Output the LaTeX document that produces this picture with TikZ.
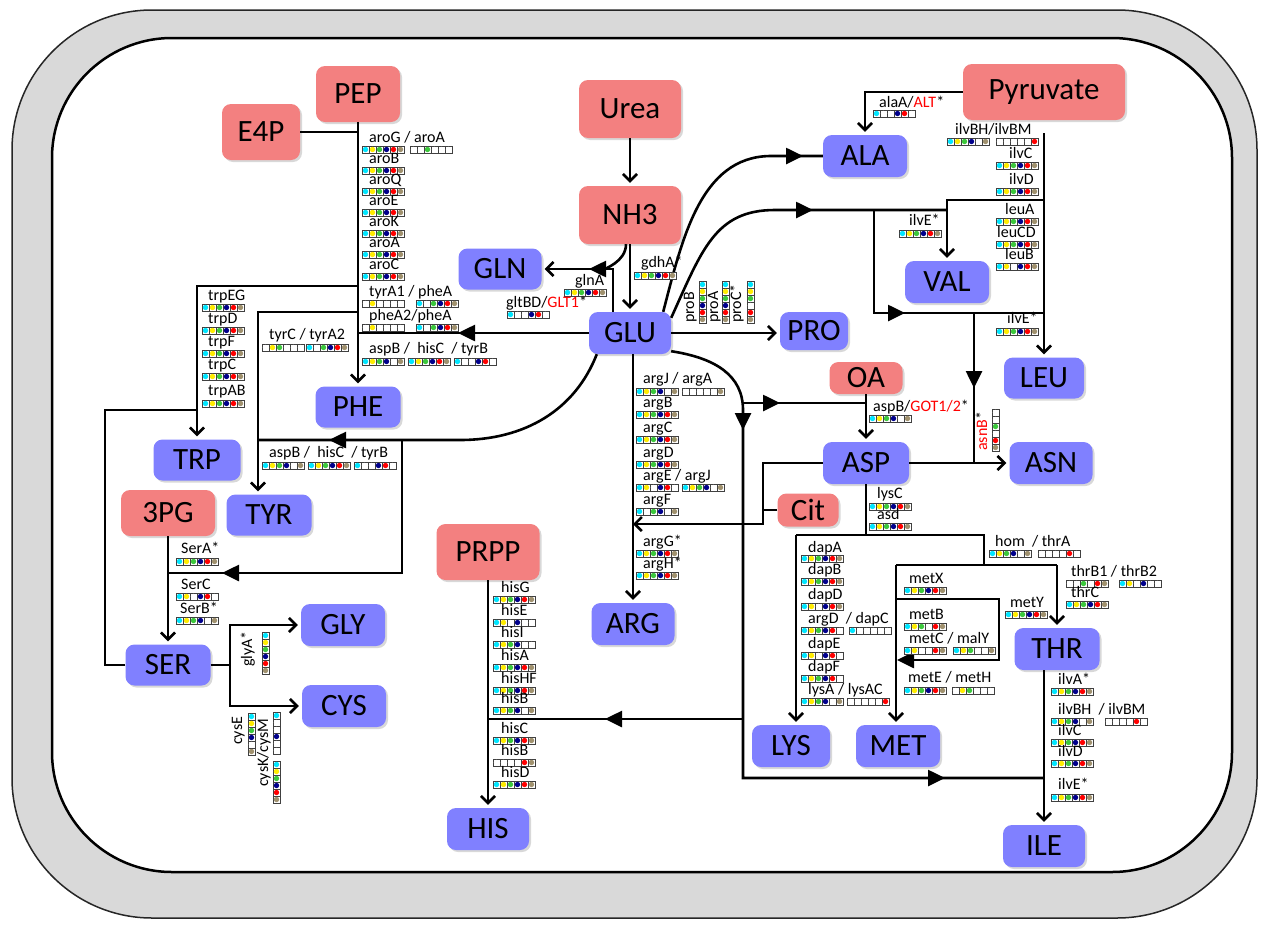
\documentclass[tikz,border=0pt]{standalone}
\usepackage{fontspec}
\setmainfont{Carlito}
\usetikzlibrary{arrows.meta,shadows,calc}
\definecolor{nred}{RGB}{243,128,128}
\definecolor{nblue}{RGB}{128,128,255}
\definecolor{c}{RGB}{0,230,255}
\definecolor{y}{RGB}{255,236,0}
\definecolor{g}{RGB}{60,200,60}
\definecolor{n}{RGB}{0,0,140}
\definecolor{r}{RGB}{255,0,0}
\definecolor{t}{RGB}{160,145,110}
\definecolor{o}{RGB}{255,255,255}
\definecolor{framegray}{RGB}{217,217,217}
\newcount\gcnt
\newcommand\gs[2]{\begin{scope}[shift={(#1)}]
  \foreach \cc [count=\ii from 0] in {#2}{
    \draw[cellb] (\ii*7,0) rectangle ++(7,7);
    \fill[fill=\cc] (\ii*7+3.5,3.5) circle[radius=2.7pt];}
  \end{scope}}
\newcommand\gsv[2]{\begin{scope}[shift={(#1)}]
  \foreach \cc [count=\ii from 0] in {#2}{
    \draw[cellb] (0,\ii*7) rectangle ++(7,7);
    \fill[fill=\cc] (3.5,\ii*7+3.5) circle[radius=2.7pt];}
  \end{scope}}
\newcommand\gl[2]{\global\advance\gcnt by 1 \node[gtxt] (t\the\gcnt) at (#1) {#2};}
\newcommand\glr[2]{\global\advance\gcnt by 1 \node[gtxt,rotate=90] (t\the\gcnt) at (#1) {#2};}
\begin{document}
\begin{tikzpicture}[x=1pt,y=-1pt,
  base/.style={rounded corners=9pt, font=\fontsize{31}{34}\selectfont, inner sep=0pt,
    drop shadow={opacity=0.3, shadow xshift=2pt, shadow yshift=-2pt}},
  rn/.style={base, fill=nred},
  bn/.style={base, fill=nblue},
  ln/.style={line width=2.6pt},
  oa/.style={ln, -{Straight Barb[length=7pt,width=14pt]}, shorten >=3pt},
  tri/.style={ln, -{Triangle[length=17pt,width=16pt]}},
  cellb/.style={draw=black!75, line width=0.6pt, fill=white},
  gtxt/.style={anchor=base west, inner sep=0pt, font=\fontsize{16}{18}\selectfont}]
\useasboundingbox (0,0) rectangle (1264,924);
\draw[line width=1.5pt, draw=black!85, fill=framegray, rounded corners=140pt] (12,10) rectangle (1257,918);
\draw[line width=2.5pt, fill=white, rounded corners=120pt] (52,38) rectangle (1232,872);

% ---------- nodes ----------
\node[rn, minimum width=84pt, minimum height=56pt] (PEP) at (358,94) {PEP};
\node[rn, minimum width=78pt, minimum height=56pt] (E4P) at (261,132) {E4P};
\node[rn, minimum width=102pt, minimum height=58pt] (Urea) at (630,109) {Urea};
\node[rn, minimum width=102pt, minimum height=58pt] (NH3) at (630,215) {NH3};
\node[rn, minimum width=162pt, minimum height=56pt] (Pyr) at (1044,92) {Pyruvate};
\node[rn, minimum width=73pt, minimum height=32pt] (OA) at (866,378) {OA};
\node[rn, minimum width=61pt, minimum height=33pt] (Cit) at (808,510) {Cit};
\node[rn, minimum width=94pt, minimum height=46pt] (PG) at (168,513) {3PG};
\node[rn, minimum width=103pt, minimum height=56pt] (PRPP) at (488,552) {PRPP};

\node[bn, minimum width=83pt, minimum height=41pt] (GLN) at (500,269) {GLN};
\node[bn, minimum width=82pt, minimum height=42pt] (GLU) at (630,333) {GLU};
\node[bn, minimum width=68pt, minimum height=38pt] (PRO) at (814,331) {PRO};
\node[bn, minimum width=84pt, minimum height=42pt] (ALA) at (865,156) {ALA};
\node[bn, minimum width=84pt, minimum height=42pt] (VAL) at (947,282) {VAL};
\node[bn, minimum width=80pt, minimum height=41pt] (LEU) at (1044,378) {LEU};
\node[bn, minimum width=83pt, minimum height=42pt] (ASN) at (1051,463) {ASN};
\node[bn, minimum width=86pt, minimum height=42pt] (ASP) at (866,463) {ASP};
\node[bn, minimum width=85pt, minimum height=41pt] (PHE) at (358,407) {PHE};
\node[bn, minimum width=87pt, minimum height=41pt] (TRP) at (197,460) {TRP};
\node[bn, minimum width=85pt, minimum height=41pt] (TYR) at (269,515) {TYR};
\node[bn, minimum width=85pt, minimum height=41pt] (SER) at (168,665) {SER};
\node[bn, minimum width=84pt, minimum height=42pt] (GLY) at (343,625) {GLY};
\node[bn, minimum width=84pt, minimum height=42pt] (CYS) at (344,706) {CYS};
\node[bn, minimum width=83pt, minimum height=42pt] (ARG) at (633,624) {ARG};
\node[bn, minimum width=82pt, minimum height=42pt] (HIS) at (488,829) {HIS};
\node[bn, minimum width=78pt, minimum height=42pt] (LYS) at (791,746) {LYS};
\node[bn, minimum width=84pt, minimum height=42pt] (MET) at (898,746) {MET};
\node[bn, minimum width=85pt, minimum height=42pt] (THR) at (1057,649) {THR};
\node[bn, minimum width=82pt, minimum height=42pt] (ILE) at (1044,846) {ILE};

% ---------- connectors ----------
% aromatic
\draw[oa] (PEP) -- (PHE);
\draw[ln] (E4P.east) -- (E4P.east -| PEP.south);
\draw[oa] (358,286) -| (TRP.north);
\draw[oa] (358,312) -| ([xshift=-11pt]TYR.north);
\draw[ln] (GLU.west) -- (GLU.west -| PHE.north);
\draw[tri] (478,333) -- (458,333);
\draw[ln] ([xshift=8pt]GLU.south west) .. controls (575,410) and (525,440) .. (460,440) -- (258,440);
\draw[tri] (349,440) -- (329,440);
\draw[ln] (402,440) |- (168,573);
\draw[tri] (242,573) -- (222,573);
% serine
\draw[oa] (PG) -- (SER);
\draw[ln] (SER.west) -- (105,665) -- (105,410) -- (197,410);
\draw[ln] (SER.east) -- (230,665);
\draw[oa] (230,665) |- (GLY.west);
\draw[oa] (230,665) |- (CYS.west);
% nitrogen
\draw[oa] (Urea) -- (NH3);
\draw[oa] (NH3) -- (GLU);
\draw[oa] ([xshift=-17pt]GLU.north) |- (GLN.east);
\draw[ln, -{Triangle[length=17pt,width=16pt]}] ([xshift=-4pt]NH3.south) .. controls +(0,18) and +(14,0) .. (589,269);
\draw[oa] (GLU.east) -- (GLU.east -| PRO.west);
% alanine / valine / leucine
\draw[ln] ([xshift=-8pt]GLU.north east) .. controls (682,240) and (700,157) .. (770,156) -- (ALA.west);
\draw[tri] (783,156) -- (803,156);
\draw[ln] ([yshift=-6pt]GLU.north east) .. controls (702,250) and (715,210) .. (775,210) -- (947,210);
\draw[tri] (793,210) -- (813,210);
\draw[ln] (874,210) -- (874,313) -- (1044,313);
\draw[tri] (885,313) -- (905,313);
\draw[oa] (Pyr.west) -| (ALA.north);
\draw[oa] (1044,133) -- (LEU.north);
\draw[oa] (1044,200) -| (VAL.north);
% aspartate family
\draw[ln] (974,313) -- (974,463);
\draw[tri] (974,368) -- (974,388);
\draw[oa] (ASP.east) -- (ASN.west);
\draw[oa] (OA) -- (ASP);
\draw[ln] (743,403) -- (866,403);
\draw[tri] (760,403) -- (780,403);
\draw[ln] ([yshift=3pt]GLU.south east) .. controls (715,358) and (743,375) .. (743,410) -- (743,778) -- (1044,778);
\draw[tri] (743,410) -- (743,430);
\draw[tri] (925,778) -- (945,778);
\draw[ln] (743,719) -- (488,719);
\draw[tri] (625,719) -- (605,719);
\draw[oa] (PRPP) -- (HIS);
\draw[oa] (ARG.north |- GLU.south) -- (ARG.north);
\coordinate (argj) at (633,524);
\draw[oa, shorten >=0pt] (ASP.west) -| (763,524) -- (argj);
\draw[ln] (Cit.west) -- (763,510);
\draw[ln] (ASP.south) -- (866,535);
\draw[ln] (796,535) -- (984,535) -- (984,565);
\draw[oa] (796,535) -- ([xshift=5pt]LYS.north);
\draw[ln] (896,565) -- (1057,565);
\draw[oa] (896,565) -- ([xshift=-2pt]MET.north);
\draw[oa] (1057,565) -- (THR.north);
\draw[ln] (896,599) -- (999,599) -- (999,660) -- (915,660);
\draw[tri] (917,660) -- (897,660);
\draw[oa] ([xshift=-13pt]THR.south) -- (ILE.north);

% ---------- genes ----------
\gl{369,142}{aroG / aroA}\gs{362,146}{c,y,g,n,r,t}\gs{410,146}{o,o,g,o,o,o}
\gl{369,163}{aroB}\gs{362,167}{c,y,g,n,r,t}
\gl{369,184}{aroQ}\gs{362,188}{c,y,g,n,r,t}
\gl{369,205}{aroE}\gs{362,209}{c,y,g,n,r,t}
\gl{369,226}{aroK}\gs{362,230}{c,y,g,n,r,t}
\gl{369,247}{aroA}\gs{362,251}{c,y,g,n,r,t}
\gl{369,269}{aroC}\gs{362,273}{c,y,g,n,r,t}
\gl{369,296}{tyrA1 / pheA}\gs{362,300}{o,y,o,o,o,o}\gs{416,300}{c,o,g,n,r,t}
\gl{369,320}{pheA2/pheA}\gs{362,324}{o,y,o,o,o,o}\gs{416,324}{c,o,g,n,r,t}
\gl{369,353}{aspB /\ \ hisC\ \ / tyrB}\gs{362,358}{c,y,g,n,o,t}\gs{408,358}{c,y,g,n,r,t}\gs{454,358}{c,o,o,n,r,o}

\gl{208,300}{trpEG}\gs{202,304}{c,y,g,n,r,t}
\gl{208,323}{trpD}\gs{202,327}{c,y,g,n,r,t}
\gl{208,346}{trpF}\gs{202,350}{c,y,g,n,r,t}
\gl{208,369}{trpC}\gs{202,373}{c,y,g,n,r,t}
\gl{208,395}{trpAB}\gs{202,400}{c,y,g,n,r,t}
\gl{269,339}{tyrC / tyrA2}\gs{262,344}{o,y,g,o,o,o}\gs{306,344}{c,o,g,n,r,t}
\gl{269,457}{aspB /\ \ hisC\ \ / tyrB}\gs{262,462}{c,y,g,n,o,t}\gs{308,462}{c,y,g,n,r,t}\gs{354,462}{c,o,o,n,r,o}

\gl{641,267}{gdhA*}\gs{634,272}{c,y,g,n,r,t}
\gl{575,285}{glnA}\gs{564,289}{c,y,g,n,r,t}
\gl{506,307}{gltBD/\textcolor{r}{GLT1}*}\gs{507,311}{c,o,o,n,r,o}
\glr{694,323}{proB}\gsv{699,281}{c,y,g,n,r,t}
\glr{718,323}{proA}\gsv{722,281}{c,y,g,n,r,t}
\glr{741,323}{proC*}\gsv{747,281}{c,y,g,o,r,t}

\gl{643,383}{argJ / argA}\gs{636,388}{c,y,g,n,o,t}\gs{682,388}{o,o,o,o,o,t}
\gl{643,407}{argB}\gs{636,411}{c,y,g,n,r,t}
\gl{643,432}{argC}\gs{636,436}{c,y,g,n,r,t}
\gl{643,457}{argD}\gs{636,461}{c,y,g,n,r,t}
\gl{643,480}{argE / argJ}\gs{636,484}{c,y,o,n,r,o}\gs{682,484}{c,y,g,n,o,t}
\gl{643,504}{argF}\gs{636,508}{c,o,g,n,o,t}
\gl{643,546}{argG*}\gs{636,550}{c,y,g,n,r,t}
\gl{643,568}{argH*}\gs{636,572}{c,y,g,n,r,t}

\gl{879,107}{alaA/\textcolor{r}{ALT}*}\gs{873,110}{c,o,o,n,r,o}
\gl{955,134}{ilvBH/ilvBM}\gs{947,138}{c,y,g,n,o,t}\gs{996,138}{o,o,o,o,o,r}
\gl{1009,158}{ilvC}\gs{996,162}{c,y,g,n,r,t}
\gl{1009,184}{ilvD}\gs{996,188}{c,y,g,n,r,t}
\gl{909,225}{ilvE*}\gs{899,230}{c,y,g,n,r,t}
\gl{1005,214}{leuA}\gs{996,218}{c,y,g,n,r,t}
\gl{997,237}{leuCD}\gs{996,241}{c,y,g,n,r,t}
\gl{1005,259}{leuB}\gs{996,263}{c,y,o,n,r,t}
\gl{1007,323}{ilvE*}\gs{996,328}{c,y,g,n,r,t}

\gl{873,411}{aspB/\textcolor{r}{GOT1/2}*}\gs{869,415}{c,y,g,n,o,t}
\glr{987,451}{\textcolor{r}{asnB}*}\gsv{992,409}{o,o,g,o,r,t}
\gl{877,498}{lysC}\gs{869,503}{c,y,g,n,r,t}
\gl{877,519}{asd}\gs{869,523}{c,y,g,n,r,t}

\gl{808,552}{dapA}\gs{801,555}{c,y,g,n,r,t}
\gl{808,574}{dapB}\gs{801,578}{c,y,g,n,r,t}
\gl{808,599}{dapD}\gs{801,603}{c,y,o,n,r,t}
\gl{808,623}{argD\ \ / dapC}\gs{801,627}{c,y,g,n,r,o}\gs{849,627}{c,o,o,o,o,o}
\gl{808,648}{dapE}\gs{801,652}{c,y,o,n,r,o}
\gl{808,671}{dapF}\gs{801,675}{c,y,g,n,r,o}
\gl{808,694}{lysA / lysAC}\gs{801,698}{c,y,g,n,o,t}\gs{847,698}{o,o,o,o,o,r}

\gl{995,546}{hom\ \ / thrA}\gs{989,550}{c,y,g,n,o,t}\gs{1038,550}{o,o,o,o,r,o}
\gl{909,583}{metX}\gs{904,587}{c,y,g,n,r,t}
\gl{909,619}{metB}\gs{904,623}{c,y,g,o,r,t}
\gl{909,643}{metC / malY}\gs{904,647}{c,y,o,o,r,t}\gs{953,647}{c,y,g,o,o,t}
\gl{908,682}{metE / metH}\gs{904,687}{c,y,g,n,r,t}\gs{952,687}{o,y,g,o,o,o}
\gl{1010,607}{metY}\gs{1005,611}{c,y,g,n,r,t}

\gl{1071,576}{thrB1 / thrB2}\gs{1066,580}{o,o,g,o,r,t}\gs{1119,580}{c,y,o,n,o,o}
\gl{1071,597}{thrC}\gs{1066,601}{c,y,g,n,r,t}
\gl{1058,684}{ilvA*}\gs{1051,688}{c,y,g,n,r,t}
\gl{1058,714}{ilvBH\ \ / ilvBM}\gs{1051,718}{c,y,g,n,o,t}\gs{1105,718}{o,o,o,o,r,o}
\gl{1058,735}{ilvC}\gs{1051,739}{c,y,g,n,r,t}
\gl{1058,756}{ilvD}\gs{1051,760}{c,y,g,n,r,t}
\gl{1058,789}{ilvE*}\gs{1051,794}{c,y,g,n,r,t}

\gl{181,553}{SerA*}\gs{176,558}{c,y,g,n,r,t}
\gl{181,589}{SerC}\gs{176,593}{c,y,o,n,r,o}
\gl{180,613}{SerB*}\gs{176,617}{c,y,g,n,o,t}
\glr{252,667}{glyA*}\gsv{262,632}{c,y,g,n,r,t}
\glr{242,745}{cysE}\gsv{248,713}{c,y,g,n,o,t}
\glr{268,787}{cysK/cysM}\gsv{273,712}{c,o,o,n,o,o}\gsv{273,761}{c,y,g,n,r,t}

\gl{501,592}{hisG}\gs{493,596}{c,y,g,n,r,t}
\gl{501,615}{hisE}\gs{493,619}{c,y,o,n,o,o}
\gl{501,637}{hisI}\gs{493,641}{c,y,g,n,o,o}
\gl{501,660}{hisA}\gs{493,664}{c,y,g,n,r,t}
\gl{501,683}{hisHF}\gs{493,687}{c,y,g,n,r,t}
\gl{501,703}{hisB}\gs{493,707}{c,y,g,n,o,t}
\gl{501,733}{hisC}\gs{493,737}{c,y,g,n,r,t}
\gl{501,755}{hisB}\gs{493,759}{o,o,o,o,r,t}
\gl{501,777}{hisD}\gs{493,781}{c,y,g,n,r,t}
\end{tikzpicture}
\end{document}
